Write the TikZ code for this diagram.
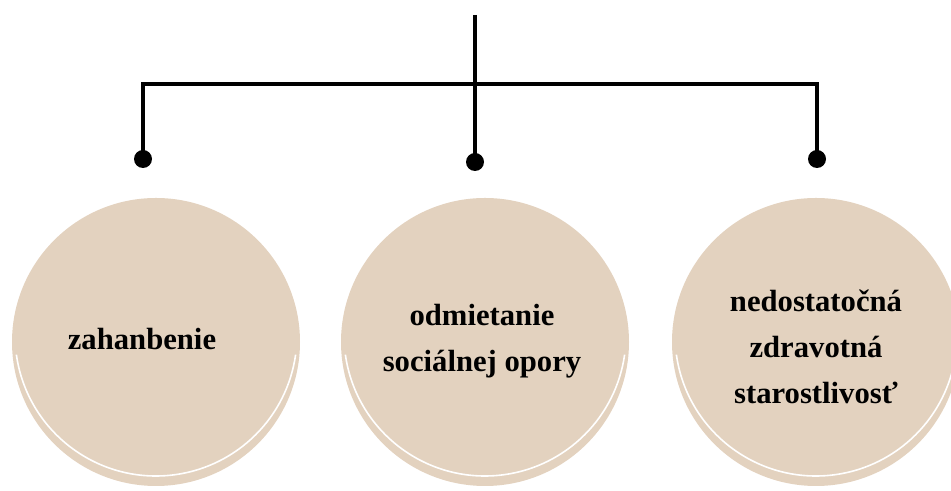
\documentclass[tikz,border=0pt]{standalone}
\usepackage{fontspec}
\setmainfont{Liberation Serif}
\usepackage{xcolor}
\usetikzlibrary{positioning}
\definecolor{sand}{HTML}{E3D2BF}

\begin{document}
\begin{tikzpicture}[x=0.75pt,y=0.75pt,line width=3pt]
  \tikzstyle{causecircle}=[circle,fill=sand,minimum size=216pt,inner sep=0pt]
  \tikzstyle{causetext}=[font=\fontsize{23}{34.5}\selectfont\bfseries,align=center,text=black]
  \tikzstyle{joint}=[circle,fill=black,minimum size=13.5pt,inner sep=0pt]
  \tikzstyle{glint}=[draw=white,line width=1.2pt]
  \useasboundingbox (0,0) rectangle (951,491);
  % the three causes
  \node[causecircle] (shame) at (156,149) {};
  \node[causecircle] (support) at (485,149) {};
  \node[causecircle] (care) at (816,149) {};
  \draw[glint] (shame.center) ++(0,7) ++(188:141) arc[start angle=188,end angle=352,radius=141];
  \draw[glint] (support.center) ++(0,7) ++(188:141) arc[start angle=188,end angle=352,radius=141];
  \draw[glint] (care.center) ++(0,7) ++(188:141) arc[start angle=188,end angle=352,radius=141];
  \node[causetext] (shametext) at (142,152) {zahanbenie};
  \node[causetext] (supporttext) at (482,150) {odmietanie\\sociálnej opory};
  \node[causetext] (caretext) at (816,144) {nedostatočná\\zdravotná\\starostlivosť};
  % branching lines
  \coordinate (top) at (475,476);
  \coordinate (bar) at (475,407);
  \node[joint] (jleft) at (143,332) {};
  \node[joint] (jmid) at (475,329) {};
  \node[joint] (jright) at (817,332) {};
  \draw (top) -- (jmid.center);
  \draw (jleft.center) |- (bar) -| (jright.center);
\end{tikzpicture}
\end{document}
